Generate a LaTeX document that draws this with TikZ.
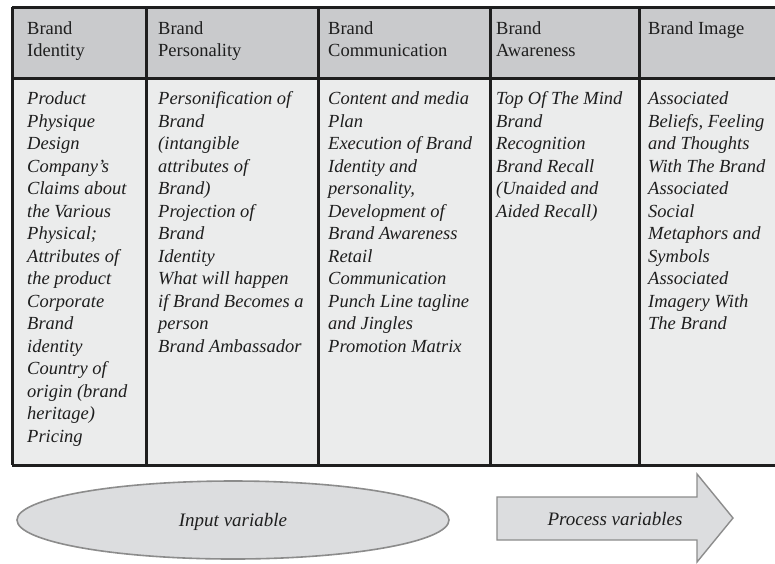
\documentclass[tikz,border=0pt]{standalone}
\usepackage{fontspec}
\setmainfont{Liberation Serif}
\usetikzlibrary{shapes.geometric}
\definecolor{headgray}{HTML}{C9CACC}
\definecolor{bodygray}{HTML}{EBECEC}
\definecolor{ink}{HTML}{1E1E1E}
\definecolor{shapegray}{HTML}{DCDDDF}
\definecolor{edgegray}{HTML}{8C8C8C}
\begin{document}
\begin{tikzpicture}[x=1pt,y=-1pt,
  hcell/.style={fill=headgray, inner sep=0pt, outer sep=0pt, anchor=north west, minimum height=71pt},
  bcell/.style={fill=bodygray, inner sep=0pt, outer sep=0pt, anchor=north west, minimum height=387pt},
  htext/.style={anchor=north west, inner sep=0pt, align=left, font=\fontsize{18.5}{22}\selectfont, text=ink},
  btext/.style={anchor=north west, inner sep=0pt, align=left, font=\fontsize{18.5}{22.5}\selectfont\itshape, text=ink},
  gridline/.style={draw=ink, line width=3pt},
  shapetext/.style={font=\fontsize{19}{22}\selectfont\itshape, text=ink},
]
\useasboundingbox (0,0) rectangle (775,563);
\clip (0,0) rectangle (775,563);
\fill[white] (0,0) rectangle (775,563);

% header cells
\node[hcell, minimum width=134pt] (h1) at (12,7) {};
\node[hcell, minimum width=172pt] (h2) at (146,7) {};
\node[hcell, minimum width=172pt] (h3) at (318,7) {};
\node[hcell, minimum width=149pt] (h4) at (490,7) {};
\node[hcell, minimum width=151pt] (h5) at (639,7) {};
% body cells
\node[bcell, minimum width=134pt] (b1) at (12,78) {};
\node[bcell, minimum width=172pt] (b2) at (146,78) {};
\node[bcell, minimum width=172pt] (b3) at (318,78) {};
\node[bcell, minimum width=149pt] (b4) at (490,78) {};
\node[bcell, minimum width=151pt] (b5) at (639,78) {};

% grid lines
\draw[gridline] (h1.north west) -- (h5.north east);
\draw[gridline] (b1.north west) -- (b5.north east);
\draw[gridline] (b1.south west) -- (b5.south east);
\draw[gridline] (h1.north west) -- (b1.south west);
\draw[gridline] (h2.north west) -- (b2.south west);
\draw[gridline] (h3.north west) -- (b3.south west);
\draw[gridline] (h4.north west) -- (b4.south west);
\draw[gridline] (h5.north west) -- (b5.south west);

% header texts
\node[htext] (ht1) at (27,21.5) {Brand\\Identity};
\node[htext] (ht2) at (158,21.5) {Brand\\Personality};
\node[htext] (ht3) at (328,21.5) {Brand\\Communication};
\node[htext] (ht4) at (496,21.5) {Brand\\Awareness};
\node[htext] (ht5) at (648,21.5) {Brand Image};

% body texts
\node[btext] (bt1) at (27,91.5) {Product\\Physique\\Design\\Company’s\\Claims about\\the Various\\Physical;\\Attributes of\\the product\\Corporate\\Brand\\identity\\Country of\\origin (brand\\heritage)\\Pricing};
\node[btext] (bt2) at (158,91.5) {Personification of\\Brand\\(intangible\\attributes of\\Brand)\\Projection of\\Brand\\Identity\\What will happen\\if Brand Becomes a\\person\\Brand Ambassador};
\node[btext] (bt3) at (328,91.5) {Content and media\\Plan\\Execution of Brand\\Identity and\\personality,\\Development of\\Brand Awareness\\Retail\\Communication\\Punch Line tagline\\and Jingles\\Promotion Matrix};
\node[btext] (bt4) at (496,91.5) {Top Of The Mind\\Brand\\Recognition\\Brand Recall\\(Unaided and\\Aided Recall)};
\node[btext] (bt5) at (648,91.5) {Associated\\Beliefs, Feeling\\and Thoughts\\With The Brand\\Associated\\Social\\Metaphors and\\Symbols\\Associated\\Imagery With\\The Brand};

% input ellipse
\node[ellipse, draw=edgegray, fill=shapegray, line width=1.6pt, minimum width=432pt, minimum height=78pt, inner sep=0pt] (inp) at (233,520) {};
\node[shapetext] (inptext) at (233,522) {Input variable};

% process arrow
\coordinate (a1) at (497,497);
\coordinate (a2) at (697,497);
\coordinate (a3) at (697,474);
\coordinate (a4) at (733,518);
\coordinate (a5) at (697,562);
\coordinate (a6) at (697,540);
\coordinate (a7) at (497,540);
\draw[draw=edgegray, fill=shapegray, line width=1.4pt, line join=miter] (a1) -- (a2) -- (a3) -- (a4) -- (a5) -- (a6) -- (a7) -- cycle;
\node[shapetext] (proc) at (615,519) {Process variables};
\end{tikzpicture}
\end{document}
